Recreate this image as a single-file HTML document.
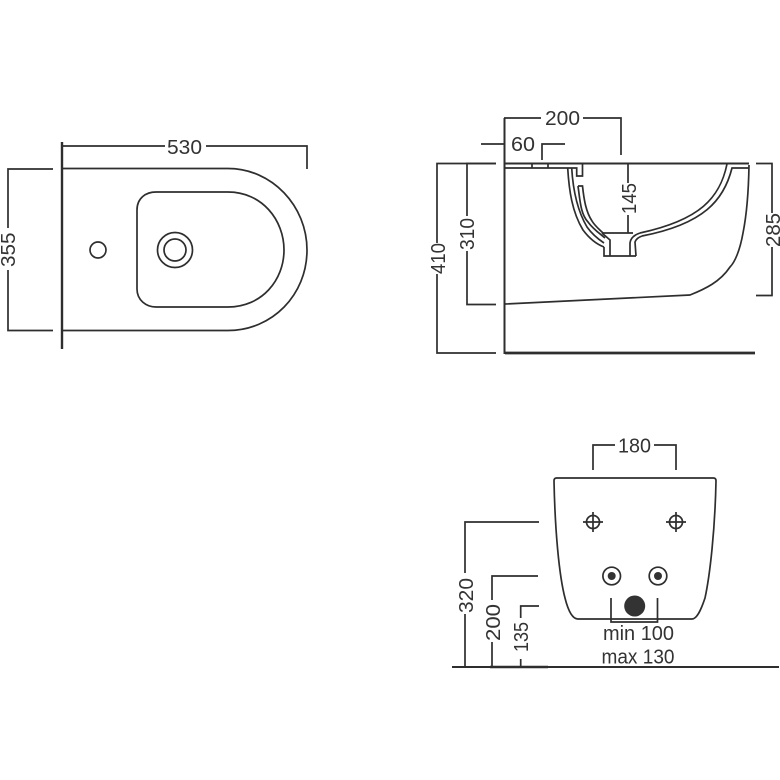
<!DOCTYPE html>
<html>
<head>
<meta charset="utf-8">
<style>
html,body{margin:0;padding:0;background:#fff;width:780px;height:780px;overflow:hidden}
svg{display:block}
text{font-family:"Liberation Sans",sans-serif;font-size:20.5px;fill:#333}
path,line,circle{fill:none;stroke:#2e2e2e;stroke-width:1.7}
</style>
</head>
<body>
<svg width="780" height="780" viewBox="0 0 780 780" xmlns="http://www.w3.org/2000/svg">
<rect width="780" height="780" fill="#fff"/>

<!-- TOP VIEW -->
<line x1="62" y1="142" x2="62" y2="349" style="stroke-width:2.4"/>
<path d="M63 146H165M206 146H307V169"/>
<path d="M63 168.500H228C272 168.500 307 206 307 250C307 295 272 330.500 228 330.500H63"/>
<path d="M137 210C137 198 146 192 156 192H228C262 192 284 220 284 250C284 280 262 307 228 307H156C146 307 137 300 137 289Z"/>
<circle cx="98" cy="250" r="8"/>
<circle cx="175" cy="250" r="17.500"/>
<circle cx="175" cy="250" r="11"/>
<path d="M53 169H8V228M8 270V330.500H53"/>
<text x="167" y="154" textLength="35" lengthAdjust="spacingAndGlyphs">530</text>
<text transform="translate(15,267) rotate(-90)" textLength="34.500" lengthAdjust="spacingAndGlyphs">355</text>

<!-- SIDE VIEW -->
<line x1="504.500" y1="118" x2="504.500" y2="354" style="stroke-width:2"/>
<line x1="505" y1="353" x2="755" y2="353" style="stroke-width:2.800"/>
<path d="M504 118H541M583 118H621V155"/>
<path d="M481 144H504M542 160V144H565"/>
<line x1="505" y1="163.500" x2="749" y2="163.500" style="stroke-width:1.900"/>
<path d="M505 168H576.700V176H582.500V164"/>
<path d="M532 164V168M548 164V168"/>
<path d="M749 165C748.500 195 746 218 743 233C740 250 735 262 730 267C720 282 705 289 690 295L505 304"/>
<!-- bowl left -->
<path d="M567.700 168C569 190 572 212 583 230C589 238 596 244 604 247"/>
<path d="M571.700 168C573 190 577 210 587 227C592 234 598 239 604 243"/>
<path d="M578 186C580 200 580.500 214 588 222C593 229 599 233 605 238"/>
<path d="M578 186H582.500C584 200 586 212 592 221C595 226 599 229 603 233"/>
<!-- drain -->
<path d="M602 233H633"/>
<path d="M602 233L610 240V256M604 247V256H636M630 256V243C630.500 238 634 235 640 233"/>
<path d="M636 256L635 242C636 239 638 237.500 642 236"/>
<!-- bowl right -->
<path d="M727 164C720 198 700 220 640 233"/>
<path d="M749 168H732C724 200 704 224 642 236"/>
<!-- 145 -->
<path d="M628 164V183M628 215V233"/>
<!-- dims side -->
<path d="M496 163.500H437V243M437 274V353H496"/>
<path d="M496 163.500H467V216M467 251V304.500H496"/>
<path d="M756 163.500H772V213M772 247V295.500H756"/>
<text x="545" y="125" textLength="35" lengthAdjust="spacingAndGlyphs">200</text>
<text x="511" y="151" textLength="24" lengthAdjust="spacingAndGlyphs">60</text>
<text transform="translate(636,214) rotate(-90)" textLength="31" lengthAdjust="spacingAndGlyphs">145</text>
<text transform="translate(445,274) rotate(-90)" textLength="31" lengthAdjust="spacingAndGlyphs">410</text>
<text transform="translate(474,250) rotate(-90)" textLength="32" lengthAdjust="spacingAndGlyphs">310</text>
<text transform="translate(780,247) rotate(-90)" textLength="34" lengthAdjust="spacingAndGlyphs">285</text>

<!-- FRONT VIEW -->
<path d="M593 470V445H615M654 445H676V470"/>
<text x="618" y="452.500" textLength="33" lengthAdjust="spacingAndGlyphs">180</text>
<path d="M556.500 478H713.500Q716 478 716 481C715 530 710 575 705 598C701 610 697 619 692 619H578C572 619 568 610 565 598C559 575 555 530 554 481Q554 478 556.500 478Z"/>
<circle cx="593" cy="522" r="6.500"/>
<path d="M583 522H603M593 512V532"/>
<circle cx="676" cy="522" r="6.500"/>
<path d="M666 522H686M676 512V532"/>
<circle cx="611.700" cy="576" r="8.800"/>
<circle cx="658" cy="576" r="8.800"/>
<circle cx="611.700" cy="576" r="4" style="fill:#333;stroke:none"/>
<circle cx="658" cy="576" r="4" style="fill:#333;stroke:none"/>
<circle cx="634.700" cy="606" r="10.500" style="fill:#333;stroke:none"/>
<path d="M611 598V622H657.500V598"/>
<text x="603" y="640" textLength="71" lengthAdjust="spacingAndGlyphs">min 100</text>
<text x="601.500" y="663.500" textLength="73" lengthAdjust="spacingAndGlyphs">max 130</text>
<line x1="452" y1="667" x2="779" y2="667" style="stroke-width:1.900"/>
<line x1="490" y1="667" x2="548" y2="667" style="stroke-width:2.600"/>
<path d="M539 522H465V573M465 614V667"/>
<path d="M538 576H492V600M492 642V667"/>
<path d="M539 606H520.700V618M520.700 659V667"/>
<text transform="translate(473,613) rotate(-90)" textLength="35" lengthAdjust="spacingAndGlyphs">320</text>
<text transform="translate(500,641) rotate(-90)" textLength="37" lengthAdjust="spacingAndGlyphs">200</text>
<text transform="translate(528,652) rotate(-90)" textLength="30" lengthAdjust="spacingAndGlyphs">135</text>
</svg>
</body>
</html>
